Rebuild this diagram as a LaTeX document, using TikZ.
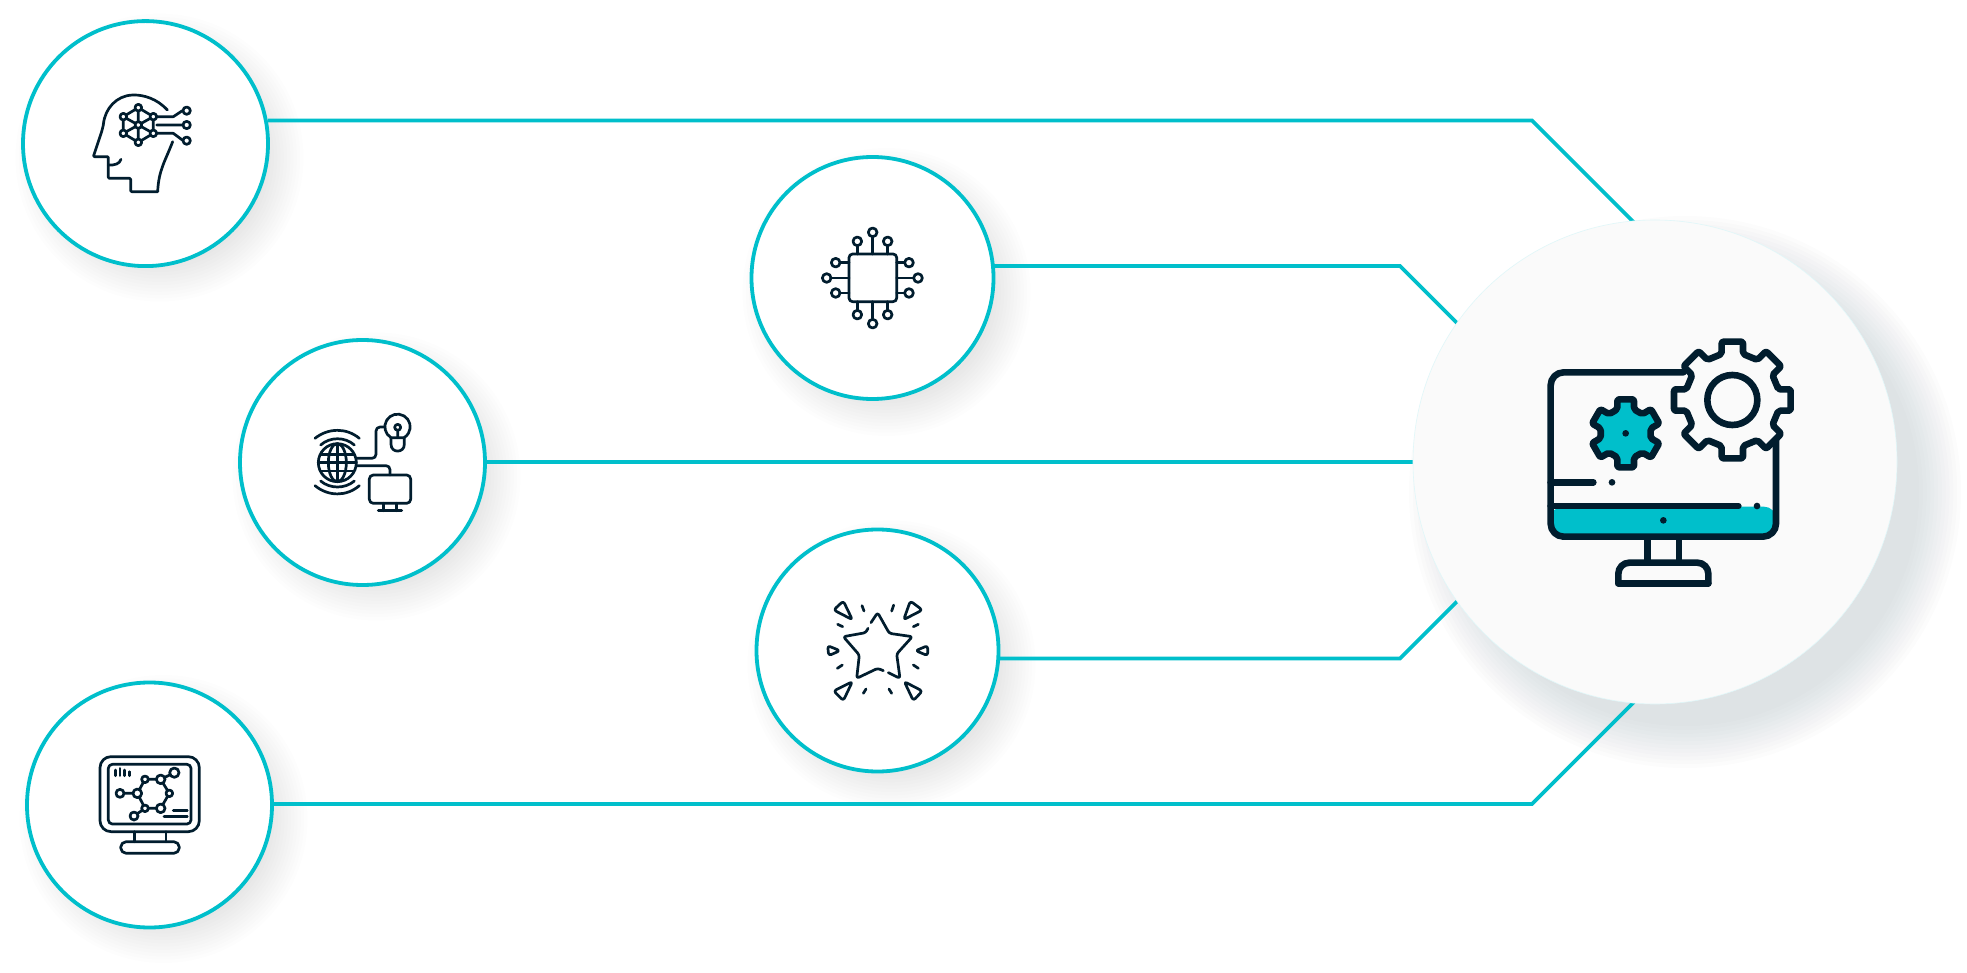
\documentclass[tikz,border=0pt]{standalone}
\usetikzlibrary{backgrounds}
\definecolor{accent}{HTML}{00BFCB}
\definecolor{ink}{HTML}{011D2E}
\definecolor{paper}{HTML}{FAFAFA}
\definecolor{slate}{HTML}{3A4A50}
\tikzset{
  hub/.style={circle,draw=accent,fill=white,line width=1.9pt,minimum size=122.5pt,inner sep=0pt,outer sep=0pt},
  smallhub/.style={hub,minimum size=121pt},
  bighub/.style={circle,draw=accent!12,fill=paper,line width=.3pt,minimum size=242pt,inner sep=0pt,outer sep=0pt},
  link/.style={draw=accent,line width=1.9pt,line join=miter},
  crop/.style 2 args={shift={(#1*0.5pt,-#2*0.5pt)},x=0.166667pt,y=-0.166667pt},
  thin ink/.style={draw=ink,line width=1.35pt,line cap=round,line join=round},
  thick ink/.style={draw=ink,line width=3.3pt,line cap=round,line join=round},
}
\newcommand{\softshadow}[5]{% cx cy inner blur opacity-per-layer
  \foreach \i in {0,...,11}{
    \fill[slate,opacity=#5] ({#1},{#2}) circle ({#3+#4*(1-\i/11)});
  }}
\newcommand{\gearoutline}[8]{% cx cy R T w n offset style
  \def\gp##1##2{({#1+(##1)*cos(\a)-(##2)*sin(\a)},{#2+(##1)*sin(\a)+(##2)*cos(\a)})}%
  \def\a{#7}%
  \path[#8] \gp{#3}{-#5}
    \foreach \k in {1,...,#6}{
      \pgfextra{\pgfmathsetmacro{\a}{#7+(\k-1)*360/#6}}
      -- \gp{#3}{-#5} -- \gp{#4}{-#5} -- \gp{#4}{#5} -- \gp{#3}{#5}
    } -- cycle;}
\begin{document}
\begin{tikzpicture}[x=0.5pt,y=-0.5pt]
\useasboundingbox (0,0) rectangle (1967,973);

% nodes
\node[hub] (c1) at (145.5,143.6) {};
\node[smallhub] (c2) at (872.5,278) {};
\node[hub] (c3) at (362.5,462.5) {};
\node[smallhub] (c4) at (877.5,650.5) {};
\node[hub] (c5) at (149.5,805) {};
\node[bighub] (big) at (1655,462) {};

% bends and ends hidden under the central disc
\coordinate (b1) at (1532,120.5);
\coordinate (e1) at (1642,230.5);
\coordinate (b2) at (1400,266);
\coordinate (e2) at (1470,336);
\coordinate (b4) at (1400,658.5);
\coordinate (e4) at (1470,588.5);
\coordinate (b5) at (1532,804);
\coordinate (e5) at (1642,694);

\begin{pgfonlayer}{background}
  \fill[white] (0,0) rectangle (1967,973);
  \softshadow{145.5+14}{143.6+14}{108}{36}{0.006}
  \softshadow{872.5+14}{278+14}{108}{36}{0.006}
  \softshadow{362.5+14}{462.5+14}{108}{36}{0.006}
  \softshadow{877.5+14}{650.5+14}{108}{36}{0.006}
  \softshadow{149.5+14}{805+14}{108}{36}{0.006}
  \softshadow{1655+30}{462+30}{234}{42}{0.0115}
  \draw[link] (c1.east |- b1) -- (b1) -- (e1);
  \draw[link] (c2.east |- b2) -- (b2) -- (e2);
  \draw[link] (c3.east |- big.west) -- (big.west);
  \draw[link] (c4.east |- b4) -- (b4) -- (e4);
  \draw[link] (c5.east |- b5) -- (b5) -- (e5);
\end{pgfonlayer}

% head icon
\begin{scope}[crop={60}{90}]
  \draw[thin ink,rounded corners=.5pt] (322,60) .. controls (290,25) and (250,15) .. (220,15) .. controls (170,17) and (135,55) .. (130,105) -- (125,125) -- (100,200) -- (145,200) -- (145,265) -- (212,265) -- (212,305) -- (293,305);
  \draw[thin ink] (293,305) .. controls (296,240) and (315,215) .. (338,155);
  \draw[thin ink] (145,225) .. controls (165,226) and (178,222) .. (183,208);
  \draw[thin ink] (235,53) -- (280,80) -- (280,130) -- (235,157) -- (190,130) -- (190,80) -- cycle;
  \draw[thin ink] (235,53) -- (235,157) (190,80) -- (280,130) (190,130) -- (280,80);
  \foreach \p in {(235,53),(280,80),(280,130),(235,157),(190,130),(190,80),(235,105)}
    \filldraw[thin ink,fill=white] \p circle (10);
  \draw[thin ink] (290,80) -- (340,80) -- (367,62) (290,105) -- (367,105) (290,130) -- (340,130) -- (367,150);
  \foreach \p in {(380,62),(380,105),(380,152)}
    \filldraw[thin ink,fill=white] \p circle (11);
\end{scope}

% chip icon
\begin{scope}[crop={790}{210}]
  \draw[thin ink,rounded corners=1.8pt] (177,132) rectangle (320,275);
  \draw[thin ink] (202,132)--(202,108) (248,132)--(248,82) (293,132)--(293,108)
     (202,275)--(202,300) (248,275)--(248,325) (293,275)--(293,300)
     (177,158)--(152,158) (177,204)--(125,204) (177,249)--(152,249)
     (320,158)--(343,158) (320,204)--(368,204) (320,249)--(343,249);
  \foreach \p in {(202,94),(248,67),(293,94),(202,314),(248,341),(293,314),(137,158),(110,204),(137,249),(357,158),(384,204),(357,249)}
    \filldraw[thin ink,fill=white] \p circle (13);
\end{scope}

% globe icon
\begin{scope}[crop={290}{395}]
  \draw[thin ink] (142,203) circle (57);
  \draw[thin ink] (142,203) ellipse [x radius=27,y radius=57];
  \draw[thin ink] (142,146)--(142,260) (85,203)--(199,203) (93,178)--(191,178) (93,228)--(191,228);
  \draw[thin ink] (75,130) .. controls (115,98) and (170,98) .. (208,130);
  \draw[thin ink] (92,150) .. controls (120,125) and (165,125) .. (193,150);
  \draw[thin ink] (92,258) .. controls (120,282) and (165,282) .. (193,258);
  \draw[thin ink] (75,272) .. controls (115,305) and (170,305) .. (208,272);
  \draw[thin ink,rounded corners=2pt] (199,190) -- (258,190) -- (258,96) -- (285,96);
  \draw[thin ink,rounded corners=2pt] (199,212) -- (300,212) -- (300,240);
  \draw[thin ink] (303,128) arc [start angle=121,end angle=419,radius=38] -- cycle;
  \draw[thin ink] (303,128) -- (303,148) .. controls (303,175) and (343,175) .. (343,148) -- (343,128);
  \draw[thin ink] (323,97) circle (9) (323,106) -- (323,128);
  \draw[thin ink,rounded corners=2pt] (238,240) rectangle (362,325);
  \draw[thin ink] (280,325)--(280,347) (320,325)--(320,347) (265,347)--(335,347);
\end{scope}

% star icon
\begin{scope}[crop={800}{585}]
  \draw[thin ink,rounded corners=1.2pt] (213,113)--(233,83)--(268,145)--(337,155)--(290,207)--(300,280)--(265,263);
  \draw[thin ink,rounded corners=1.2pt] (250,257)--(233,250)--(170,280)--(178,210)--(130,155)--(197,143)--(204,130);
  \foreach \t in {{(130,48)--(101,75)--(157,104)},{(331,48)--(367,75)--(311,104)},{(157,290)--(101,318)--(130,347)},{(313,290)--(367,318)--(340,347)},{(83,182)--(120,197)--(86,212)},{(383,182)--(347,197)--(383,212)}}
    \draw[thin ink,rounded corners=1.4pt] \t -- cycle;
  \draw[thin ink] (186,62)--(192,78) (281,60)--(275,78) (113,118)--(128,125) (355,118)--(340,125)
    (112,250)--(127,240) (355,250)--(340,240) (190,325)--(198,312) (275,325)--(267,312);
\end{scope}

% molecule monitor icon
\begin{scope}[crop={80}{740}]
  \draw[thin ink,rounded corners=5.5pt] (60,50) rectangle (358,275);
  \draw[thin ink,rounded corners=2pt] (85,73) rectangle (333,252);
  \draw[thin ink] (163,275)--(163,305) (258,275)--(258,305);
  \draw[thin ink,rounded corners=2.8pt] (122,305) rectangle (298,340);
  \draw[thin ink] (106,90)--(106,107) (120,85)--(120,107) (134,90)--(134,107) (148,95)--(148,107);
  \draw[thin ink] (195,118)--(242,118)--(268,160)--(242,205)--(195,205)--(172,160)--cycle;
  \draw[thin ink] (120,160)--(172,160) (242,118)--(283,98) (195,205)--(162,228);
  \foreach \p/\r in {(195,118)/10,(242,118)/13,(268,160)/10,(242,205)/13,(195,205)/10,(172,160)/13,(120,160)/12,(283,98)/14,(162,228)/12}
    \filldraw[thin ink,fill=white] \p circle (\r);
  \draw[thin ink] (280,212)--(322,212) (252,230)--(322,230);
\end{scope}

% central icon
\begin{scope}[crop={1530}{320}]
  \fill[accent,rounded corners=6pt] (62,650) -- (738,650) -- (738,560) -- (62,560) -- cycle;
  \draw[thick ink,rounded corners=6.5pt] (460,157) -- (62,157) -- (62,650) -- (738,650) -- (738,360);
  \draw[thick ink] (62,558)--(625,558) (62,487)--(190,487);
  \fill[ink] (246,487) circle (10) (681,558) circle (10) (400,601) circle (10);
  \draw[thick ink] (353,660)--(353,725) (447,660)--(447,725);
  \draw[thick ink,rounded corners=5.5pt] (265,790) -- (265,728) -- (535,728) -- (535,790);
  \draw[thick ink] (265,790) -- (535,790);
  \gearoutline{287}{340}{72}{102}{25}{6}{30}{thick ink,fill=accent,rounded corners=1pt}
  \fill[ink] (287,340) circle (10);
  \gearoutline{607}{240}{138}{175}{32}{8}{0}{thick ink,fill=paper,rounded corners=1pt}
  \draw[thick ink] (607,240) circle (75);
\end{scope}
\end{tikzpicture}
\end{document}
